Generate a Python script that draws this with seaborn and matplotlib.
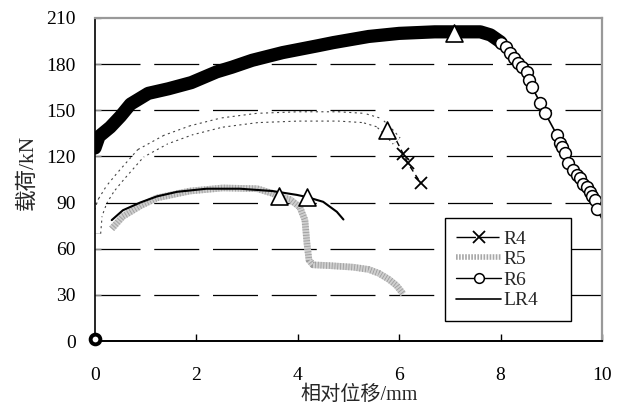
import matplotlib
matplotlib.use("Agg")
import matplotlib.pyplot as plt
import seaborn as sns
from matplotlib.lines import Line2D

# ---------------- data ----------------
# R6 : rising branch (dense markers -> heavy band)
r6_rise_x = [0.0, 0.08, 0.3, 0.5, 0.7, 0.85, 1.05, 1.45, 1.9, 2.4, 2.7, 3.1, 3.7,
             4.4, 4.7, 5.4, 6.0, 6.7, 7.08, 7.6, 7.8, 8.0]
r6_rise_y = [125.5, 133, 139, 146, 154, 157, 161, 164, 168, 175, 178, 182.5, 187.5,
             192, 194, 198, 200, 201, 201, 201, 199, 194.4]
# R6 : descending branch (individual circles)
r6_fall_x = [8.0, 8.1, 8.19, 8.27, 8.35, 8.42, 8.52, 8.57, 8.62, 8.78, 8.88, 9.11, 9.17,
             9.22, 9.27, 9.33, 9.43, 9.5, 9.57, 9.63, 9.7, 9.76, 9.8, 9.86, 9.9]
r6_fall_y = [194, 191, 187, 184, 181, 178, 175, 170, 165, 155, 148, 134, 129,
             126, 122, 116, 111, 108, 106, 102, 100, 97, 94, 91.5, 86]
r6_end_x = [9.9, 10.05]
r6_end_y = [86, 76]
# R6 : elastic part near the origin
r6_el_x = [-0.14, -0.13, -0.08, -0.03, 0.0]
r6_el_y = [24, 58, 90, 120, 125.5]
r6_origin_x = [0.0]
r6_origin_y = [1.0]

# R4 : hollow dotted band + dashed tail with crosses
r4_band_x = [0.02, 0.05, 0.15, 0.3, 0.5, 0.9, 1.4, 1.9, 2.5, 3.2, 4.0, 4.8, 5.3,
             5.6, 5.76, 5.95]
r4_band_y = [70, 82, 91, 99, 107, 122, 131, 137, 142, 145, 146, 146, 145,
             142, 137, 130]
r4_tail_x = [5.95, 6.08, 6.17, 6.43]
r4_tail_y = [130, 121.6, 115.6, 102.5]

# R5 : grey stippled band
r5_x = [0.33, 0.55, 0.9, 1.22, 1.87, 2.52, 3.2, 3.5, 3.62, 3.85, 4.04, 4.14, 4.18,
        4.22, 4.3, 4.63, 5.09, 5.4, 5.6, 5.8, 5.95, 6.08]
r5_y = [73, 81, 88, 93, 97.5, 99.5, 99, 96, 94, 92, 87, 78.7, 63.7,
        52.7, 49.5, 49, 48, 46.5, 44, 40, 36, 30.5]

# LR4 : solid line
lr4_x = [0.33, 0.55, 0.89, 1.22, 1.62, 2.2, 2.86, 3.5, 3.98, 4.18, 4.5, 4.77, 4.9]
lr4_y = [78.6, 85, 90, 94, 97, 99, 99, 97.5, 95, 93.6, 90.5, 84, 79]

# peak points (triangles): R4, R5, R6, LR4
peak_x = [5.76, 3.62, 7.08, 4.18]
peak_y = [137, 94, 200, 93.6]

x_ticks = [0, 2, 4, 6, 8, 10]
y_ticks = [0, 30, 60, 90, 120, 150, 180, 210]
x_label = "相对位移/mm"
y_label = "载荷/kN"
legend_labels = ["R4", "R5", "R6", "LR4"]

# ---------------- figure ----------------
sns.set_theme(style="white")
plt.rcParams["font.family"] = ["Liberation Serif", "Noto Sans CJK SC"]
plt.rcParams["axes.unicode_minus"] = False

fig = plt.figure(figsize=(6.21, 4.07), dpi=100)
ax = fig.add_axes([95 / 621, 1 - 341 / 407, 507 / 621, 323 / 407])

# grid lines
for yv in y_ticks[1:-1]:
    ax.axhline(yv, color="black", lw=0.9, linestyle=(0, (36, 11)), zorder=0.5)

# R4 hollow band: thick dotted grey stroke, then white core
sns.lineplot(x=r4_band_x, y=r4_band_y, sort=False, estimator=None, ax=ax,
             color="#444444", lw=7.5, linestyle=(0, (0.2, 0.33)),
             solid_capstyle="butt", dash_capstyle="butt", zorder=1)
sns.lineplot(x=r4_band_x, y=r4_band_y, sort=False, estimator=None, ax=ax,
             color="white", lw=5.9, solid_capstyle="butt", zorder=1.1)
sns.lineplot(x=r4_tail_x, y=r4_tail_y, sort=False, estimator=None, ax=ax,
             color="black", lw=1.0, linestyle=(0, (4, 3)), zorder=3)
sns.lineplot(x=r4_tail_x[1:], y=r4_tail_y[1:], sort=False, estimator=None, ax=ax,
             color="black", lw=0, marker="x", markersize=8, markeredgewidth=1.3,
             markeredgecolor="black", zorder=3)

# R5 grey stippled band
sns.lineplot(x=r5_x, y=r5_y, sort=False, estimator=None, ax=ax,
             color="#cfcfcf", lw=4.8, solid_capstyle="butt", zorder=1.5)
sns.lineplot(x=r5_x, y=r5_y, sort=False, estimator=None, ax=ax,
             color="#9a9a9a", lw=4.8, linestyle=(0, (0.12, 0.3)),
             dash_capstyle="butt", zorder=1.6)

# LR4 solid line
sns.lineplot(x=lr4_x, y=lr4_y, sort=False, estimator=None, ax=ax,
             color="black", lw=1.5, zorder=2)

# R6
sns.lineplot(x=r6_el_x, y=r6_el_y, sort=False, estimator=None, ax=ax,
             color="black", lw=1.6, zorder=2)
sns.lineplot(x=r6_rise_x, y=r6_rise_y, sort=False, estimator=None, ax=ax,
             color="black", lw=9.5, solid_capstyle="round",
             solid_joinstyle="round", zorder=2.2)
sns.lineplot(x=r6_end_x, y=r6_end_y, sort=False, estimator=None, ax=ax,
             color="black", lw=1.2, zorder=2.2)
sns.lineplot(x=r6_fall_x, y=r6_fall_y, sort=False, estimator=None, ax=ax,
             color="black", lw=1.2, marker="o", markersize=8.5,
             markerfacecolor="white", markeredgecolor="black",
             markeredgewidth=1.1, zorder=2.3)
ax.plot(r6_origin_x, r6_origin_y, marker="o", markersize=7, color="black",
        markerfacecolor="white", markeredgewidth=2.8, clip_on=False, zorder=4)

# peaks
sns.scatterplot(x=peak_x, y=peak_y, ax=ax, marker="^", s=150,
                facecolor="white", edgecolor="black", linewidth=1.2, zorder=5)

# axes
ax.set_xlim(0, 10)
ax.set_ylim(0, 210)
ax.set_xticks(x_ticks)
ax.set_yticks(y_ticks)
ax.set_xticklabels([str(v) for v in x_ticks])
ax.set_yticklabels([str(v) for v in y_ticks])
ax.tick_params(axis="x", direction="in", length=5, width=1, color="black",
               labelsize=14, pad=19, bottom=True)
ax.tick_params(axis="y", direction="in", length=4, width=1, color="#888888",
               labelsize=14, pad=14, left=True)
for lab in ax.get_xticklabels() + ax.get_yticklabels():
    lab.set_color("black")

for side in ["top", "right"]:
    ax.spines[side].set_color("#999999")
    ax.spines[side].set_linewidth(1.6)
ax.spines["left"].set_color("black")
ax.spines["left"].set_linewidth(1.2)
ax.spines["bottom"].set_color("black")
ax.spines["bottom"].set_linewidth(1.4)

ax.set_xlabel(x_label, fontsize=14.5,
              family=["Liberation Serif", "Noto Sans CJK SC"])
ax.set_ylabel(y_label, fontsize=15.5,
              family=["Liberation Serif", "Noto Sans CJK SC"])
ax.xaxis.set_label_coords((359 - 95) / 507, (341 - 385) / 323)
ax.yaxis.set_label_coords((38 - 95) / 507, (341 - 172) / 323)

# legend
handles = [
    Line2D([], [], color="black", lw=1.0, linestyle=(0, (14, 3)), marker="x",
           markersize=8, markeredgewidth=1.3, markeredgecolor="black"),
    Line2D([], [], color="#a8a8a8", lw=4.0, linestyle=(0, (0.3, 0.25))),
    Line2D([], [], color="black", lw=1.0, marker="o", markersize=7,
           markerfacecolor="white", markeredgewidth=1.1),
    Line2D([], [], color="black", lw=1.2),
]
leg = ax.legend(handles, legend_labels, loc="lower left",
                bbox_to_anchor=(0.69, 0.062, 0.249, 0.3), mode="expand",
                borderaxespad=0,
                frameon=True, fancybox=False, framealpha=1,
                edgecolor="black", handlelength=2.3,
                handletextpad=0.1, labelspacing=0.15, borderpad=0.6,
                prop={"family": ["Liberation Serif"], "size": 14})
leg.get_frame().set_linewidth(1.0)
leg.set_zorder(10)

fig.savefig("out.png", dpi=100)
